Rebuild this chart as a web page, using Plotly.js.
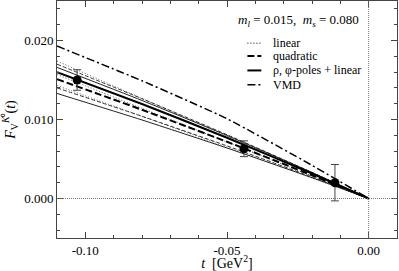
<!DOCTYPE html>
<html>
<head>
<meta charset="utf-8">
<script src="https://cdn.plot.ly/plotly-3.0.1.min.js"></script>
<style>html,body{margin:0;padding:0;background:#fff;}#chart{width:399px;height:271px;}</style>
</head>
<body>
<div id="chart"></div>
<script>
// t grid (GeV^2) for the fit curves
const tGrid = [-0.11, -0.08, -0.05, -0.02, 0.0];

// linear fit (dotted): upper, central, lower
const linUpper   = [0.0174, 0.01266, 0.00791, 0.00316, 0];
const linCentral = [0.0157, 0.01142, 0.00714, 0.00286, 0];
const linLower   = [0.0143, 0.01040, 0.00650, 0.00260, 0];

// quadratic fit (dashed): upper, central, lower
const quadUpper   = [0.0170, 0.01264, 0.00808, 0.00331, 0];
const quadCentral = [0.0151, 0.01123, 0.00718, 0.00294, 0];
const quadLower   = [0.0140, 0.01041, 0.00666, 0.00273, 0];

// rho, phi poles + linear (solid): upper, central, lower
const poleUpper   = [0.0166, 0.01241, 0.00798, 0.00329, 0];
const poleCentral = [0.0160, 0.01196, 0.00769, 0.00317, 0];
const poleLower   = [0.0133, 0.00994, 0.00639, 0.00263, 0];

// VMD (dash-dot)
const vmd = [0.0193, 0.0149, 0.0101, 0.0042, 0];

// lattice data points
const dataT   = [-0.1029, -0.0440, -0.0119];
const dataF   = [0.0150, 0.0063, 0.0020];
const dataErr = [0.0013, 0.0010, 0.0023];

// axis ticks
const xTickVals = [-0.10, -0.05, 0.00];
const xTickText = ["-0.10", "-0.05", "0.00"];
const yTickVals = [0.000, 0.010, 0.020];
const yTickText = ["0.000", "0.010", "0.020"];

// legend labels
const legendLabels = ["linear", "quadratic", "\u03c1, \u03c6-poles + linear", "VMD"];

const SERIF = "Liberation Serif, Times New Roman, serif";

function line(y, dash, width, color) {
  return {x: tGrid, y: y, mode: "lines", type: "scatter", hoverinfo: "skip",
          line: {color: color, width: width, dash: dash, shape: "spline", smoothing: 0.5}, showlegend: false};
}

const DOT = "1px,2px";
const DASH = "7px,3px";
const DASHDOT = "8px,3px,2px,3px";

const traces = [
  line(linUpper, DOT, 1, "#555"),
  line(linCentral, DOT, 1, "#555"),
  line(linLower, DOT, 1, "#555"),
  line(quadUpper, "4px,2px", 1, "#333"),
  line(quadLower, "4px,2px", 1, "#333"),
  line(quadCentral, DASH, 2, "#000"),
  line(poleUpper, "solid", 1, "#222"),
  line(poleLower, "solid", 1, "#222"),
  line(poleCentral, "solid", 2, "#000"),
  line(vmd, DASHDOT, 1.5, "#000"),
  {x: dataT, y: dataF, mode: "markers", type: "scatter", showlegend: false,
   marker: {color: "#000", size: 9},
   error_y: {type: "data", array: dataErr, visible: true, color: "#444", thickness: 1, width: 4}}
];

// legend samples (paper coordinates)
const legY = [0.822, 0.768, 0.707, 0.647];
const legW = [1, 2, 2, 1.5];
const legDashes = [DOT, DASH, "solid", DASHDOT];
const shapes = [
  {type: "line", xref: "x", yref: "y", x0: -0.11, x1: 0.01, y0: 0, y1: 0,
   line: {color: "#777", width: 1, dash: "1px,1px"}},
  {type: "line", xref: "x", yref: "paper", x0: 0, x1: 0, y0: 0, y1: 1,
   line: {color: "#777", width: 1, dash: "1px,1px"}}
];
const annotations = [
  {xref: "paper", yref: "paper", x: 0.527, y: 0.918, xanchor: "left", yanchor: "middle", showarrow: false,
   text: "<i>m</i><sub><i>l</i></sub> = 0.015,  <i>m</i><sub><i>s</i></sub> = 0.080",
   font: {family: SERIF, size: 13, color: "#000"}}
];
for (let i = 0; i < legendLabels.length; i++) {
  shapes.push({type: "line", xref: "paper", yref: "paper", x0: 0.56, x1: 0.601, y0: legY[i], y1: legY[i],
    line: {color: "#000", width: legW[i], dash: legDashes[i]}});
  annotations.push({xref: "paper", yref: "paper", x: 0.628, y: legY[i], xanchor: "left", yanchor: "middle",
    showarrow: false, text: legendLabels[i], font: {family: SERIF, size: 12, color: "#000"}});
}

const layout = {
  width: 399, height: 271,
  margin: {l: 57, r: 2, t: 1, b: 33},
  paper_bgcolor: "#fff", plot_bgcolor: "#fff",
  showlegend: false,
  font: {family: SERIF, size: 13, color: "#000"},
  xaxis: {
    range: [-0.11, 0.01], tickmode: "array", tickvals: xTickVals, ticktext: xTickText,
    ticks: "inside", ticklen: 6, tickcolor: "#444", showgrid: false, zeroline: false,
    showline: true, linecolor: "#444", linewidth: 1, mirror: "allticks",
    minor: {dtick: 0.01, tick0: 0, ticks: "inside", ticklen: 3, tickcolor: "#444", showgrid: false},
    tickfont: {family: SERIF, size: 13},
    title: {text: "<i>t</i>  [GeV<sup>2</sup>]", font: {family: SERIF, size: 14}, standoff: 2}
  },
  yaxis: {
    range: [-0.005, 0.025], tickmode: "array", tickvals: yTickVals, ticktext: yTickText,
    ticks: "inside", ticklen: 6, tickcolor: "#444", showgrid: false, zeroline: false,
    showline: true, linecolor: "#444", linewidth: 1, mirror: "allticks",
    minor: {dtick: 0.002, tick0: 0, ticks: "inside", ticklen: 3, tickcolor: "#444", showgrid: false},
    tickfont: {family: SERIF, size: 13},
    title: {text: "<i>F</i><sub>V</sub><sup><i>K</i>\u2070</sup>(<i>t</i>)", font: {family: SERIF, size: 14}, standoff: 6}
  },
  shapes: shapes,
  annotations: annotations
};

Plotly.newPlot("chart", traces, layout, {displayModeBar: false, staticPlot: true});
</script>
</body>
</html>
